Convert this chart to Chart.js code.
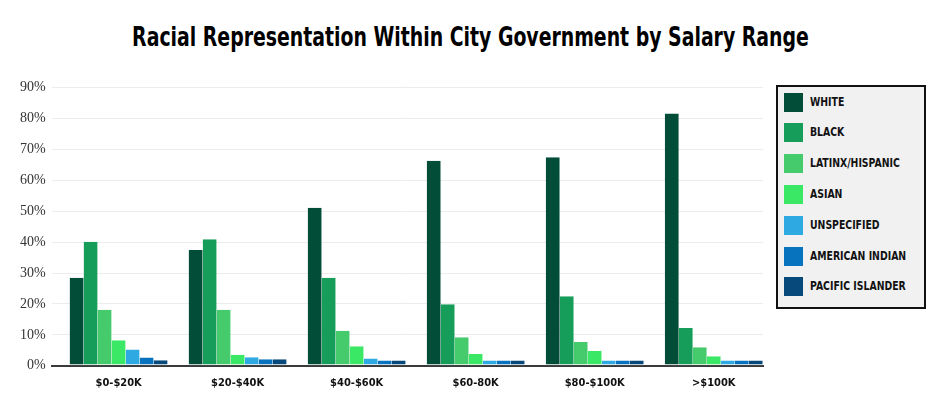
<!DOCTYPE html>
<html>
<head>
<meta charset="utf-8">
<script src="https://cdn.jsdelivr.net/npm/chart.js@4.4.1/dist/chart.umd.min.js"></script>
<style>
  html, body { margin: 0; padding: 0; background: #fff; }
  body { width: 940px; height: 402px; position: relative; overflow: hidden; }
  #title { position: absolute; left: 0; top: 23px; width: 940px; text-align: center; line-height: 1; }
  #title span { display: inline-block; transform: scaleX(0.777); transform-origin: center;
    font-family: "DejaVu Sans Condensed", "DejaVu Sans", sans-serif; font-weight: bold;
    font-size: 27px; color: #000; white-space: nowrap; }
  #wrap { position: absolute; left: 0; top: 73px; width: 780px; height: 332px; }
  #legend { position: absolute; left: 776px; top: 85px; width: 150px; height: 224px; box-sizing: border-box;
    background: #f1f1f1; border: 2px solid #111; }
  .item { position: absolute; left: 6px; height: 19px; width: 140px; }
  .sw { position: absolute; left: 0; top: 0; width: 19px; height: 19px; }
  .lab { position: absolute; left: 26px; top: 0; line-height: 19px; white-space: nowrap;
    transform: scaleX(0.864); transform-origin: left center;
    font-family: "DejaVu Sans Condensed", "DejaVu Sans", sans-serif; font-weight: bold; font-size: 12px; color: #111; }
</style>
</head>
<body>
<div id="title"><span>Racial Representation Within City Government by Salary Range</span></div>
<div id="wrap"><canvas id="c"></canvas></div>
<div id="legend"></div>
<script>
const categories = ["$0-$20K", "$20-$40K", "$40-$60K", "$60-80K", "$80-$100K", ">$100K"];
const seriesNames = ["WHITE", "BLACK", "LATINX/HISPANIC", "ASIAN", "UNSPECIFIED", "AMERICAN INDIAN", "PACIFIC ISLANDER"];
const white = [28.5, 37.4, 51.1, 66.3, 67.4, 81.6];
const black = [40.1, 40.9, 28.5, 19.9, 22.5, 12.2];
const latinx = [18.1, 18.1, 11.3, 9.2, 7.7, 6.0];
const asian = [8.3, 3.6, 6.3, 3.8, 4.8, 3.1];
const unspecified = [5.3, 2.8, 2.4, 1.7, 1.7, 1.7];
const americanIndian = [2.7, 2.1, 1.7, 1.7, 1.7, 1.7];
const pacificIslander = [1.8, 2.1, 1.7, 1.7, 1.7, 1.7];
const yTicks = [0, 10, 20, 30, 40, 50, 60, 70, 80, 90];
const colors = ["#024d37", "#159d59", "#46cb6c", "#3be866", "#2ea9e2", "#0772bd", "#07497b"];

const seriesValues = [white, black, latinx, asian, unspecified, americanIndian, pacificIslander];

const datasets = seriesValues.map((vals, s) => ({
  label: seriesNames[s],
  data: vals.map((v, i) => ({ x: i, y: v })),
  backgroundColor: colors[s],
  borderColor: "#ffffff",
  borderWidth: { top: 0, left: 0, right: 0, bottom: 1 },
  borderSkipped: false,
  categoryPercentage: 0.823,
  barPercentage: 1.0
}));

// HTML legend
const leg = document.getElementById("legend");
seriesNames.forEach((n, s) => {
  const it = document.createElement("div");
  it.className = "item";
  it.style.top = (5.5 + s * 30.8) + "px";
  it.innerHTML = '<div class="sw" style="background:' + colors[s] + '"></div><div class="lab"></div>';
  it.querySelector(".lab").textContent = n;
  leg.appendChild(it);
});

new Chart(document.getElementById("c"), {
  type: "bar",
  data: { datasets },
  options: {
    responsive: true,
    maintainAspectRatio: false,
    animation: false,
    layout: { padding: { left: 14, right: 17, top: 13, bottom: 4 } },
    plugins: { legend: { display: false }, tooltip: { enabled: false }, title: { display: false } },
    scales: {
      x: {
        type: "linear",
        offset: false,
        min: -0.5624,
        max: 5.4138,
        afterBuildTicks: (axis) => { axis.ticks = categories.map((c, i) => ({ value: i })); },
        ticks: {
          autoSkip: false, maxRotation: 0, padding: 11, color: "#111",
          font: { family: "'DejaVu Sans Condensed', 'DejaVu Sans', sans-serif", weight: "bold", size: 11 },
          callback: (v) => categories[Math.round(v)]
        },
        grid: { display: false, drawTicks: false, offset: false },
        border: { display: true, color: "#3a3a3a", width: 2 }
      },
      y: {
        min: 0, max: 90,
        afterBuildTicks: (axis) => { axis.ticks = yTicks.map(v => ({ value: v })); },
        ticks: {
          padding: 6, color: "#333",
          font: { family: "'Liberation Serif', 'DejaVu Serif', serif", size: 14 },
          callback: (v) => v + "%"
        },
        grid: { color: "#ececec", lineWidth: 1, drawTicks: false },
        border: { display: false }
      }
    }
  }
});
</script>
</body>
</html>
